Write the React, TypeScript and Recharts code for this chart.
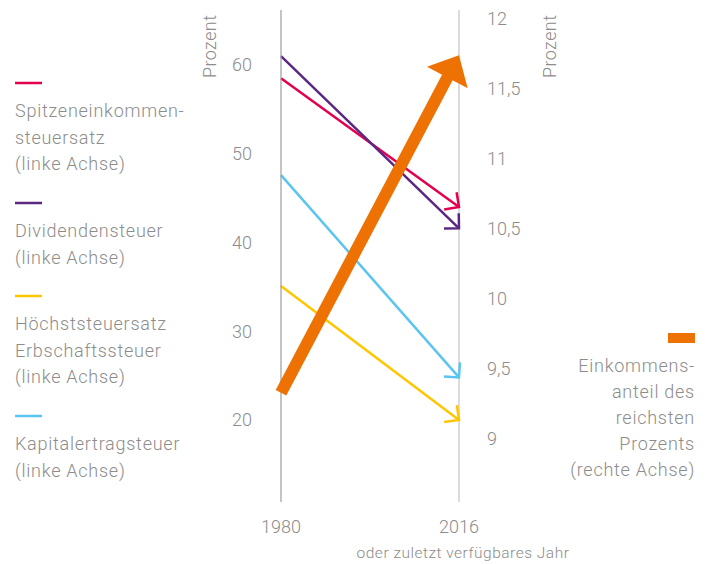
import { Line, LineChart, XAxis, YAxis } from "recharts";

const years = [1980, 2016];
const spitzensteuer = [58.5, 44.0];
const dividendensteuer = [61.0, 41.6];
const erbschaftssteuer = [35.1, 20.0];
const kapitalertragsteuer = [47.6, 24.8];
const einkommensanteil = [9.33, 11.74];

const leftTicks = [20, 30, 40, 50, 60];
const rightTicks = [9, 9.5, 10, 10.5, 11, 11.5, 12];

const leftLegend = [
  { color: "#e4004f", lines: ["Spitzeneinkommen-", "steuersatz", "(linke Achse)"] },
  { color: "#5a2783", lines: ["Dividendensteuer", "(linke Achse)"] },
  { color: "#ffc600", lines: ["Höchststeuersatz", "Erbschaftssteuer", "(linke Achse)"] },
  { color: "#5cc4f0", lines: ["Kapitalertragsteuer", "(linke Achse)"] },
];
const rightLegend = ["Einkommens-", "anteil des", "reichsten", "Prozents", "(rechte Achse)"];

const data = years.map((year, i) => ({
  year,
  spitzen: spitzensteuer[i],
  dividenden: dividendensteuer[i],
  erbschaft: erbschaftssteuer[i],
  kapital: kapitalertragsteuer[i],
  anteil: einkommensanteil[i],
}));

const TEXT = "#8c8c8c";
const FONT = "Roboto, sans-serif";
const ORANGE = "#ee7203";

const direction = (points: any[]) => {
  const a = points[0];
  const b = points[points.length - 1];
  const dx = b.x - a.x;
  const dy = b.y - a.y;
  const len = Math.sqrt(dx * dx + dy * dy) || 1;
  return { ux: dx / len, uy: dy / len };
};

// open chevron at the last point of a thin line
const chevron = (color: string) => (props: any) => {
  const { cx, cy, index, points, key } = props;
  if (!points || index !== points.length - 1) return <g key={key} />;
  const { ux, uy } = direction(points);
  const back = Math.atan2(-uy, -ux);
  const len = 15;
  const a1 = back + Math.PI / 4;
  const a2 = back - Math.PI / 4;
  const d = `M${cx + Math.cos(a1) * len},${cy + Math.sin(a1) * len} L${cx},${cy} L${
    cx + Math.cos(a2) * len
  },${cy + Math.sin(a2) * len}`;
  return <path key={key} d={d} fill="none" stroke={color} strokeWidth={2.5} />;
};

// thick arrow with a filled head, drawn from the line's own points
const bigArrow = (props: any) => {
  const { index, points, key } = props;
  if (!points || index !== points.length - 1) return <g key={key} />;
  const start = points[0];
  const tip = points[points.length - 1];
  const { ux, uy } = direction(points);
  const headLen = 25;
  const half = 23;
  const bx = tip.x - ux * headLen;
  const by = tip.y - uy * headLen;
  const px = -uy;
  const py = ux;
  return (
    <g key={key}>
      <line
        x1={start.x}
        y1={start.y}
        x2={bx + ux * 2}
        y2={by + uy * 2}
        stroke={ORANGE}
        strokeWidth={12}
      />
      <path
        d={`M${tip.x},${tip.y} L${bx + px * half},${by + py * half} L${bx - px * half},${
          by - py * half
        } Z`}
        fill={ORANGE}
      />
    </g>
  );
};

const tickStyle = { fill: TEXT, fontSize: 18, fontFamily: FONT, fontWeight: 300 };

const App = () => {
  return (
    <div style={{ position: "absolute", left: 0, top: 0, width: 710, height: 564, background: "#fff" }}>
      <LineChart
        width={710}
        height={564}
        data={data}
        margin={{ top: 10, right: 0, bottom: 0, left: 0 }}
      >
        <XAxis
          dataKey="year"
          type="number"
          domain={[1980, 2016]}
          ticks={years}
          axisLine={false}
          tickLine={false}
          tickMargin={12}
          height={62}
          tick={tickStyle}
        />
        <YAxis
          yAxisId="left"
          orientation="left"
          width={281}
          domain={[10.76, 66.2]}
          ticks={leftTicks}
          tickLine={false}
          tickMargin={23}
          axisLine={{ stroke: "#9d9d9d", strokeWidth: 1.2 }}
          tick={tickStyle}
        />
        <YAxis
          yAxisId="right"
          orientation="right"
          width={251}
          domain={[8.55, 12.064]}
          ticks={rightTicks}
          tickLine={false}
          tickMargin={22}
          axisLine={{ stroke: "#c4c4c4", strokeWidth: 1.2 }}
          tick={tickStyle}
          tickFormatter={(v: number) => String(v).replace(".", ",")}
        />
        <Line
          yAxisId="left"
          dataKey="spitzen"
          stroke="#e4004f"
          strokeWidth={2.5}
          dot={chevron("#e4004f")}
          isAnimationActive={false}
        />
        <Line
          yAxisId="left"
          dataKey="dividenden"
          stroke="#5a2783"
          strokeWidth={2.5}
          dot={chevron("#5a2783")}
          isAnimationActive={false}
        />
        <Line
          yAxisId="left"
          dataKey="erbschaft"
          stroke="#ffc600"
          strokeWidth={2.5}
          dot={chevron("#ffc600")}
          isAnimationActive={false}
        />
        <Line
          yAxisId="left"
          dataKey="kapital"
          stroke="#5cc4f0"
          strokeWidth={2.5}
          dot={chevron("#5cc4f0")}
          isAnimationActive={false}
        />
        <Line
          yAxisId="right"
          dataKey="anteil"
          stroke="none"
          dot={bigArrow}
          isAnimationActive={false}
        />
      </LineChart>
      <svg
        width={710}
        height={564}
        style={{ position: "absolute", left: 0, top: 0, pointerEvents: "none" }}
        fontFamily={FONT}
        fontWeight={300}
        fill={TEXT}
      >
        <text transform="translate(216,78) rotate(-90)" fontSize={18} letterSpacing={0.4}>
          Prozent
        </text>
        <text transform="translate(556,78) rotate(-90)" fontSize={18} letterSpacing={0.4}>
          Prozent
        </text>
        <text x={463} y={558} fontSize={15.5} textAnchor="middle" letterSpacing={0.5}>
          oder zuletzt verfügbares Jahr
        </text>
        {leftLegend.map((item, i) => {
          const markerY = [83, 203, 296, 416][i];
          return (
            <g key={i}>
              <line x1={15} x2={42} y1={markerY} y2={markerY} stroke={item.color} strokeWidth={2.5} />
              {item.lines.map((t, j) => (
                <text key={j} x={15} y={markerY + 34 + j * 26.5} fontSize={18} letterSpacing={0.75}>
                  {t}
                </text>
              ))}
            </g>
          );
        })}
        <rect x={668} y={333} width={27} height={10} fill={ORANGE} />
        {rightLegend.map((t, j) => (
          <text key={j} x={695} y={372 + j * 26} fontSize={18} textAnchor="end" letterSpacing={0.75}>
            {t}
          </text>
        ))}
      </svg>
    </div>
  );
};

export default App;
